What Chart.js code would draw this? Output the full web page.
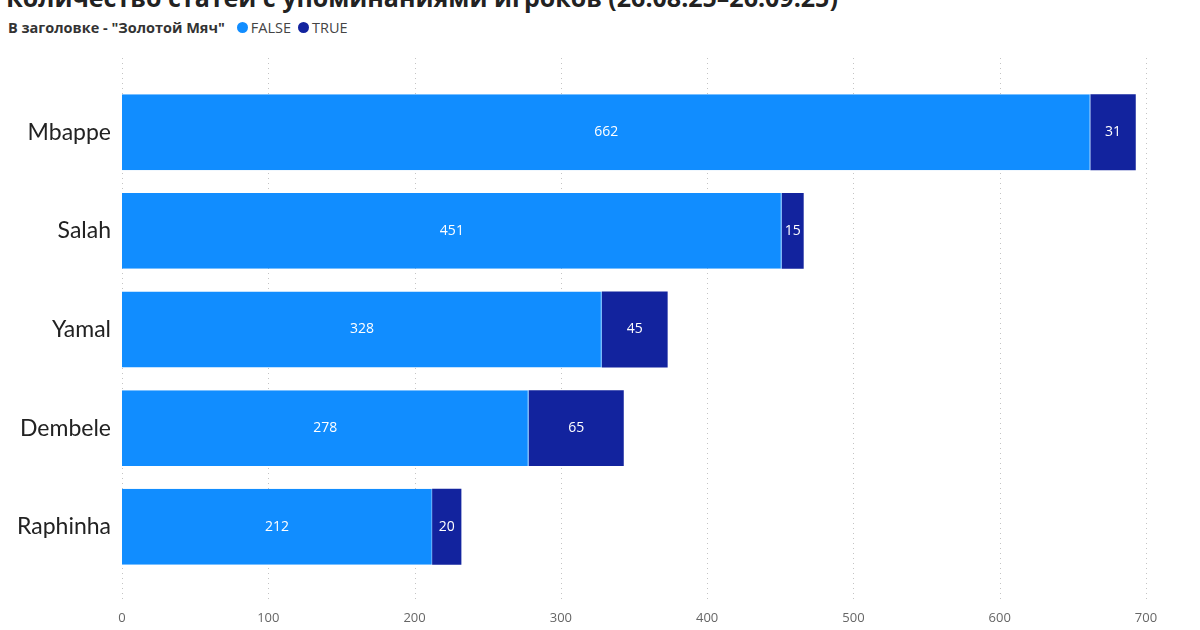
<!DOCTYPE html>
<html>
<head>
<meta charset="utf-8">
<script src="https://cdn.jsdelivr.net/npm/chart.js@4.4.1/dist/chart.umd.min.js"></script>
<style>
  body { margin: 0; background: #fff; width: 1200px; height: 630px; overflow: hidden; position: relative; font-family: "Open Sans", sans-serif; }
  #title { position: absolute; left: 6px; top: -20px; font-size: 25px; font-weight: bold; color: #222; white-space: nowrap; }
  #legend { position: absolute; left: 8px; top: 18px; font-size: 14.5px; color: #444; white-space: nowrap; display: flex; align-items: center; }
  #legend b { color: #333; margin-right: 12px; }
  .dot { display: inline-block; width: 11px; height: 11px; border-radius: 50%; margin-right: 3px; }
  .item { margin-right: 7px; display: flex; align-items: center; }
  #wrap { position: absolute; left: 0; top: 0; width: 1200px; height: 630px; }
</style>
</head>
<body>
<div id="title">Количество статей с упоминаниями игроков (26.08.25–26.09.25)</div>
<div id="legend">
  <b>В заголовке - "Золотой Мяч"</b>
  <span class="item"><span class="dot" style="background:#118DFF"></span>FALSE</span>
  <span class="item"><span class="dot" style="background:#12239E"></span>TRUE</span>
</div>
<div id="wrap"><canvas id="barChart" width="1200" height="630"></canvas></div>
<script>
const players = ["Mbappe", "Salah", "Yamal", "Dembele", "Raphinha"];
const falseCounts = [662, 451, 328, 278, 212];
const trueCounts = [31, 15, 45, 65, 20];
const xTicks = [0, 100, 200, 300, 400, 500, 600, 700];

// dotted vertical grid lines that run past the plot area, like the original
const gridPlugin = {
    id: "tallGrid",
    beforeDatasetsDraw(chart) {
        const c = chart.ctx;
        const x = chart.scales.x;
        c.save();
        c.strokeStyle = "#c4c4c4";
        c.lineWidth = 1;
        c.setLineDash([1, 4]);
        xTicks.forEach(function (v) {
            const px = Math.round(x.getPixelForValue(v)) + 0.5;
            c.beginPath();
            c.moveTo(px, 58);
            c.lineTo(px, 602);
            c.stroke();
        });
        c.restore();
    },
};

// value labels in the middle of each segment
const labelPlugin = {
    id: "segLabels",
    afterDatasetsDraw(chart) {
        const c = chart.ctx;
        c.save();
        c.fillStyle = "#fff";
        c.font = "14px 'Open Sans'";
        c.textAlign = "center";
        c.textBaseline = "middle";
        chart.data.datasets.forEach(function (ds, i) {
            chart.getDatasetMeta(i).data.forEach(function (bar, j) {
                c.fillText(ds.data[j], (bar.x + bar.base) / 2, bar.y);
            });
        });
        c.restore();
    },
};

new Chart(document.getElementById("barChart"), {
    type: "bar",
    data: {
        labels: players,
        datasets: [
            {
                label: "FALSE",
                data: falseCounts,
                backgroundColor: "#118DFF",
                borderColor: "#4aa8ff",
                borderWidth: { right: 1 },
                borderSkipped: false,
            },
            {
                label: "TRUE",
                data: trueCounts,
                backgroundColor: "#12239E",
                borderWidth: 0,
            },
        ],
    },
    options: {
        indexAxis: "y",
        responsive: false,
        animation: false,
        devicePixelRatio: 1,
        barPercentage: 0.77,
        categoryPercentage: 1,
        layout: { padding: { top: 83, right: 54, left: 0, bottom: 0 } },
        scales: {
            x: {
                stacked: true,
                min: 0,
                max: 700,
                grid: { display: false },
                border: { display: false },
                afterFit: function (s) { s.height = 54; },
                afterBuildTicks: function (s) { s.ticks = xTicks.map(v => ({ value: v })); },
                ticks: {
                    autoSkip: false,
                    maxRotation: 0,
                    padding: 26,
                    color: "#666",
                    font: { family: "Open Sans", size: 13 },
                },
            },
            y: {
                stacked: true,
                grid: { display: false },
                border: { display: false },
                afterFit: function (s) { s.width = 122; },
                ticks: {
                    autoSkip: false,
                    padding: 3,
                    color: "#222",
                    font: { family: "Lato", size: 23 },
                },
            },
        },
        plugins: {
            legend: { display: false },
            tooltip: { enabled: false },
        },
    },
    plugins: [gridPlugin, labelPlugin],
});
</script>
</body>
</html>
